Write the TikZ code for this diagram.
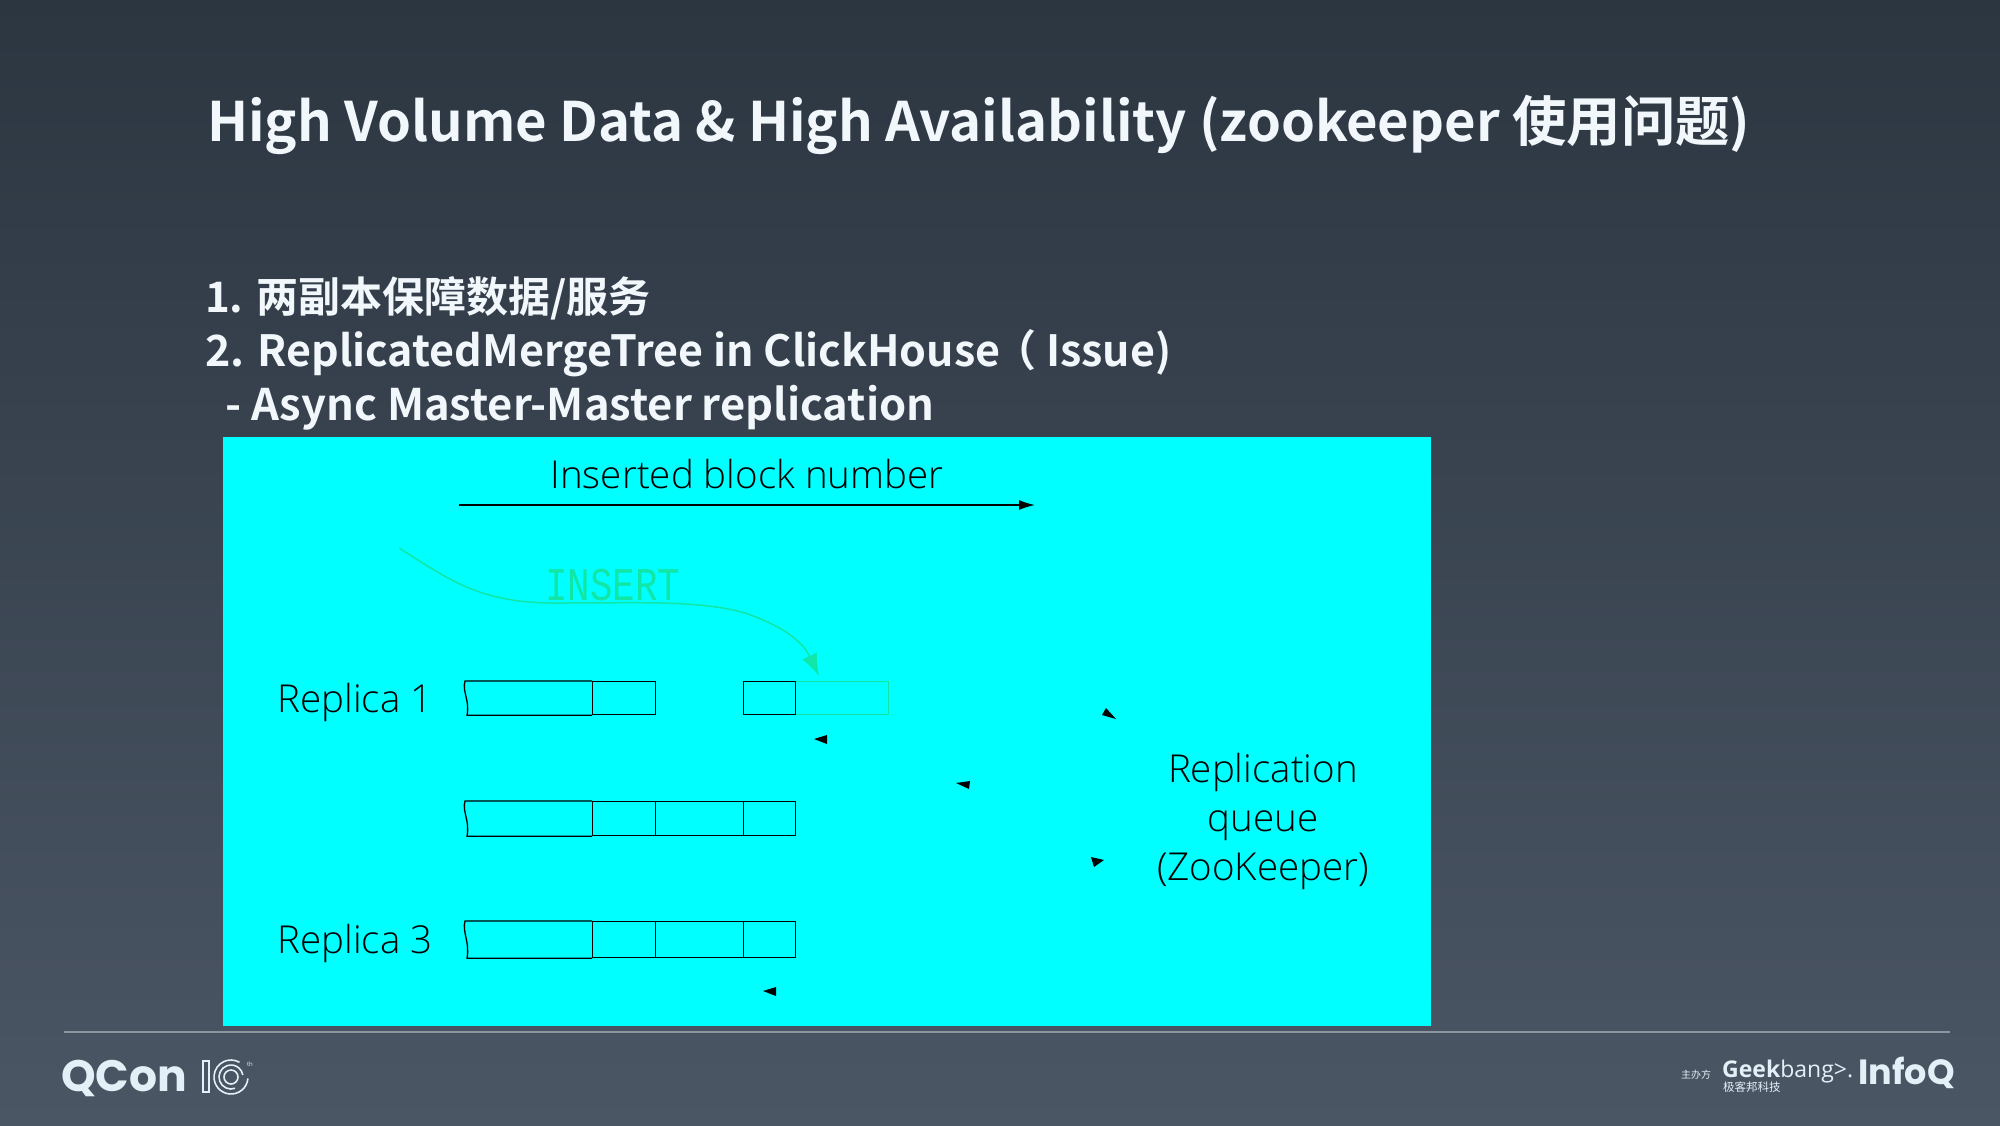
\documentclass[tikz,border=0pt]{standalone}
\usepackage{fontspec}
\usetikzlibrary{arrows.meta,positioning}
\setmainfont{Open Sans}
\newfontfamily\cjkb[BoldFont=Noto Sans CJK SC Bold]{Noto Sans CJK SC}
\newfontfamily\labelf{Open Sans Light}
\newfontfamily\monof{Liberation Mono}
\newfontfamily\logof{Poppins}
\definecolor{cyanbg}{HTML}{00FFFF}
\definecolor{insgreen}{HTML}{12E6A6}
\definecolor{slidetop}{HTML}{2C3641}
\definecolor{slidebot}{HTML}{4B5665}
\definecolor{titlew}{HTML}{F1F7FB}
\definecolor{logow}{HTML}{E4F0F8}
\definecolor{rulec}{HTML}{8C969E}
\tikzset{
  x=1pt,y=-1pt,
  titletext/.style={anchor=base west,inner sep=0,text=titlew,font=\cjkb\bfseries\fontsize{54.4}{54.4}\selectfont},
  bodytext/.style={anchor=base west,inner sep=0,text=titlew,font=\cjkb\bfseries\fontsize{43}{43}\selectfont},
  lbl/.style={inner sep=0,text=black,font=\labelf\fontsize{38.5}{38.5}\selectfont},
  cell/.style={draw=black,line width=1.3pt,inner sep=0,anchor=north west},
  gcell/.style={draw=insgreen,line width=1.3pt,inner sep=0,anchor=north west},
  logotext/.style={inner sep=0,text=logow},
}
\begin{document}
\begin{tikzpicture}
\useasboundingbox (0,0) rectangle (2000,1125);
\fill[top color=slidetop,bottom color=slidebot] (0,0) rectangle (2000,1125);

% heading
\node[titletext] (title) at (207,141) {High Volume Data \& High Availability (zookeeper 使用问题)};
\node[bodytext,font=\cjkb\bfseries\fontsize{42}{42}\selectfont] (l1) at (205,312) {1. 两副本保障数据/服务};
\node[bodytext] (l2) at (205,366) {2. ReplicatedMergeTree in ClickHouse\hspace{-7pt}（ Issue)};
\node[bodytext,font=\cjkb\bfseries\fontsize{43.5}{43.5}\selectfont] (l3) at (225,420) {- Async Master-Master replication};

% cyan panel
\fill[cyanbg] (223,437) rectangle (1431,1026);

\node[lbl] (ibn) at (747,474) {Inserted block number};
\coordinate (ibnA) at (459,505);
\coordinate (ibnB) at (1035,505);
\draw[line width=1.4pt,-{Latex[length=16pt,width=10pt]}] (ibnA) -- (ibnB);

\node[lbl] (rep1) at (355,702) {Replica 1};
\node[lbl] (rep3) at (355,943) {Replica 3};
\node[lbl,align=center,font=\labelf\fontsize{38.5}{49}\selectfont] (rq) at (1263,821) {Replication\\queue\\(ZooKeeper)};

% INSERT
\node[inner sep=0,text=insgreen,font=\monof\fontsize{37.5}{37.5}\selectfont,yscale=1.25] (ins) at (613,585) {INSERT};
\coordinate (insA) at (399,548);
\coordinate (insB) at (819,676);
\draw[insgreen,line width=1.5pt,-{Latex[length=22pt,width=16pt]}]
  (insA) .. controls (450,580) and (480,604) .. (560,603)
  .. controls (640,603) and (700,600) .. (745,613)
  .. controls (780,625) and (802,640) .. (insB);

% row 1
\node[gcell,minimum width=93pt,minimum height=33pt] (r1e) at (795,681) {};
\node[cell,minimum width=52pt,minimum height=33pt] (r1d) at (743,681) {};
\node[cell,minimum width=63pt,minimum height=33pt] (r1b) at (592,681) {};
\draw[line width=1.3pt] (r1b.north west) -- (465,0 |- r1b.north west) .. controls (462,692) and (470,700) .. (467,0 |- r1b.south west) -- (r1b.south west);

% row 2
\node[cell,minimum width=63pt,minimum height=34pt] (r2b) at (592,801) {};
\node[cell,minimum width=88pt,minimum height=34pt] (r2c) at (655,801) {};
\node[cell,minimum width=52pt,minimum height=34pt] (r2d) at (743,801) {};
\draw[line width=1.3pt] (r2b.north west) -- (465,0 |- r2b.north west) .. controls (462,812) and (470,820) .. (467,0 |- r2b.south west) -- (r2b.south west);

% row 3
\node[cell,minimum width=63pt,minimum height=36pt] (r3b) at (592,921) {};
\node[cell,minimum width=88pt,minimum height=36pt] (r3c) at (655,921) {};
\node[cell,minimum width=52pt,minimum height=36pt] (r3d) at (743,921) {};
\draw[line width=1.3pt] (r3b.north west) -- (465,0 |- r3b.north west) .. controls (462,932) and (470,942) .. (467,0 |- r3b.south west) -- (r3b.south west);

% small arrow heads
\fill (814,739) -- (827,735) -- (827,744) -- cycle;
\fill (956,783) -- (970,781) -- (969,789) -- cycle;
\fill (1106,708) -- (1102,715) -- (1116,719) -- cycle;
\fill (1091,857) -- (1104,860) -- (1094,867) -- cycle;
\fill (763,991) -- (776,987) -- (776,996) -- cycle;

% footer
\coordinate (ruleA) at (64,1032);
\coordinate (ruleB) at (1950,1032);
\draw[rulec,line width=1.2pt] (ruleA) -- (ruleB);

\node[logotext,anchor=west,font=\logof\bfseries\fontsize{44}{44}\selectfont] (qcon) at (61,1078) {QCon};
\draw[logow,line width=1.6pt] (203,1061) rectangle (209,1092);
\draw[logow,line width=1.6pt] ([shift={(231,1077)}]5:17) arc (5:300:17);
\draw[logow,line width=1.6pt] ([shift={(231,1077)}]70:12) arc (70:350:12);
\draw[logow,line width=1.6pt] (231,1077) circle (7);
\node[logotext,font=\fontsize{6}{6}\selectfont] (th) at (250,1064) {th};

\node[logotext,anchor=west,font=\cjkb\fontsize{10}{10}\selectfont] (zbf) at (1681,1075) {主办方};
\node[logotext,anchor=west,font=\fontsize{23}{23}\selectfont] (gb) at (1722,1072) {\textbf{Geek}bang>.};
\node[logotext,anchor=west,font=\cjkb\fontsize{11.5}{11.5}\selectfont] (jkb) at (1723,1087) {极客邦科技};
\node[logotext,anchor=west,font=\logof\bfseries\fontsize{35}{35}\selectfont] (infoq) at (1858,1073) {InfoQ};
\end{tikzpicture}
\end{document}
